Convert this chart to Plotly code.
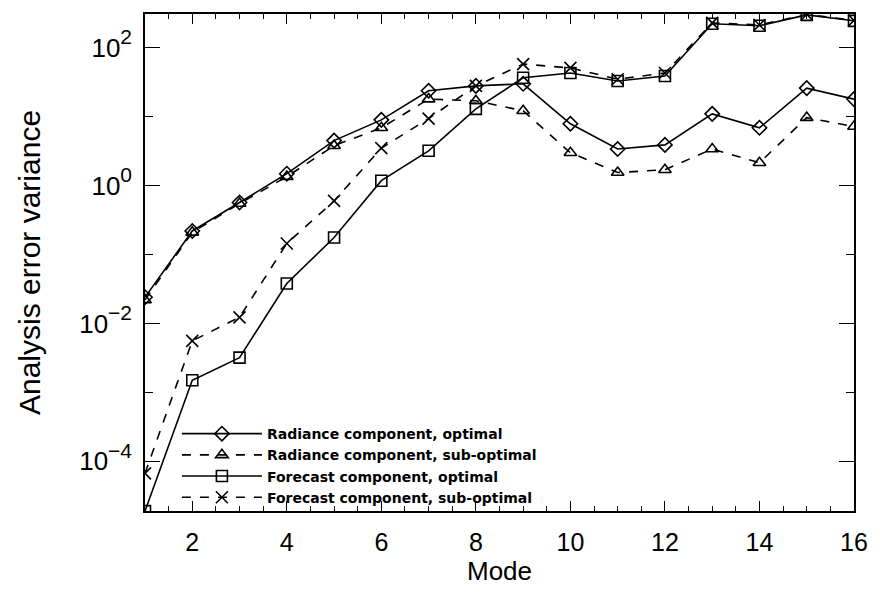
import plotly.graph_objects as go

modes = list(range(1, 17))

rad_opt = [0.024, 0.22, 0.57, 1.49, 4.5, 9.0, 23.8, 28, 30, 7.9, 3.4, 3.9, 11, 6.9, 26, 18]
rad_sub = [0.022, 0.21, 0.55, 1.35, 3.8, 6.9, 18, 17, 12.2, 3.0, 1.55, 1.7, 3.4, 2.15, 9.7, 7.2]
fc_opt = [1.9e-5, 1.5e-3, 3.2e-3, 0.038, 0.177, 1.18, 3.2, 13, 36.7, 43, 33, 39, 223, 209, 300, 246]
fc_sub = [6.7e-5, 5.6e-3, 0.0123, 0.145, 0.6, 3.5, 9.4, 28, 58, 51, 35, 43, 230, 214, 305, 250]

names = ["Radiance component, optimal", "Radiance component, sub-optimal",
         "Forecast component, optimal", "Forecast component, sub-optimal"]

xtick_vals = [2, 4, 6, 8, 10, 12, 14, 16]
ytick_vals = [1e-4, 1e-2, 1e0, 1e2]
ytick_exps = ["−4", "−2", "0", "2"]
ytick_text = ["10<span style='font-size:30px'><sup>%s</sup></span>" % e for e in ytick_exps]

series = [
    (rad_opt, "diamond-open", "solid", 11),
    (rad_sub, "triangle-up-open", "dash", 11),
    (fc_opt, "square-open", "solid", 11),
    (fc_sub, "x-thin-open", "dash", 12),
]

fig = go.Figure()
for (vals, sym, dash, sz), nm in zip(series, names):
    fig.add_trace(go.Scatter(
        x=modes, y=vals, name=nm, mode="lines+markers",
        line=dict(color="black", width=1.6, dash=dash),
        marker=dict(symbol=sym, size=sz, color="black", line=dict(color="black", width=1.6)),
        cliponaxis=True,
    ))

font_main = "Liberation Sans, Arial, sans-serif"

fig.update_layout(
    width=880, height=596,
    margin=dict(l=145, r=19, t=13, b=85),
    paper_bgcolor="white", plot_bgcolor="white",
    font=dict(family=font_main, color="black", size=24),
    showlegend=True,
    legend=dict(
        x=0.045, y=0.187, xanchor="left", yanchor="top",
        bgcolor="rgba(0,0,0,0)", borderwidth=0,
        font=dict(family="DejaVu Sans, sans-serif", size=14, color="black", weight="bold"),
        itemwidth=80, tracegroupgap=0,
    ),
)

fig.update_xaxes(
    range=[1, 16], tickvals=xtick_vals,
    showline=True, linecolor="black", linewidth=1.5, mirror="ticks",
    ticks="inside", ticklen=10, tickwidth=1.2, tickcolor="black",
    minor=dict(dtick=0.5, ticks="inside", ticklen=5, tickwidth=1, tickcolor="black"),
    showgrid=False, zeroline=False,
    tickfont=dict(size=25), ticklabelstandoff=8,
    title=dict(text="Mode", font=dict(size=26), standoff=4),
)

fig.update_yaxes(
    type="log", range=[-4.72, 2.49],
    tickvals=ytick_vals, ticktext=ytick_text,
    showline=True, linecolor="black", linewidth=1.5, mirror="ticks",
    ticks="inside", ticklen=15, tickwidth=1.2, tickcolor="black",
    minor=dict(tickvals=[1e-5, 1e-3, 1e-1, 1e1], ticks="inside", ticklen=8, tickwidth=1, tickcolor="black"),
    showgrid=False, zeroline=False,
    tickfont=dict(size=26), ticklabelstandoff=6,
    title=dict(text="Analysis error variance", font=dict(size=30), standoff=30),
)

fig.write_html("out.html")
